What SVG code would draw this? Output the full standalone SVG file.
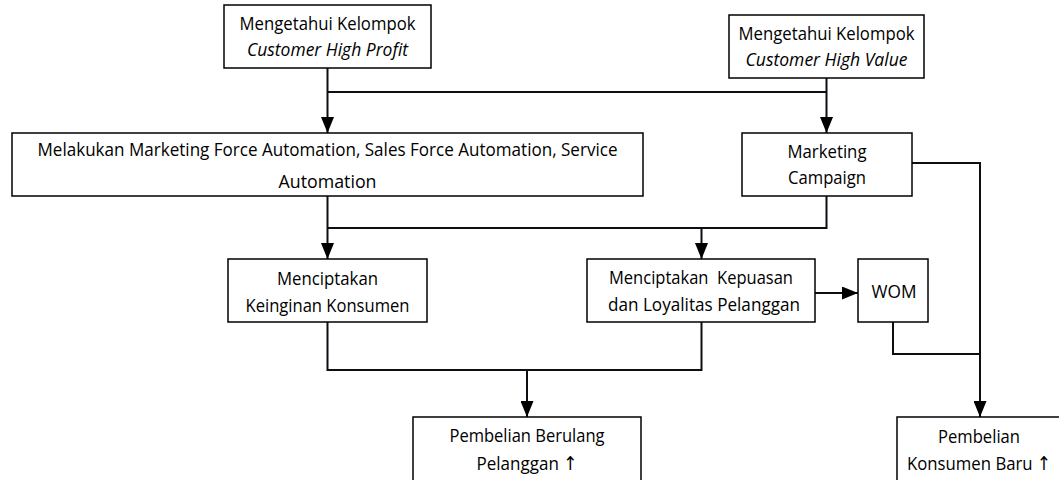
<svg xmlns="http://www.w3.org/2000/svg" width="1059" height="480" viewBox="0 0 1059 480">
  <style>
    .box { fill: #ffffff; stroke: #000000; stroke-width: 1.5; }
    .lbl { font-family: "Open Sans", "Noto Sans", "DejaVu Sans", sans-serif; font-size: 19px; fill: #000000; text-anchor: middle; }
    .it { font-style: italic; }
    .wire { fill: none; stroke: #0d0d14; stroke-width: 2; }
    .arrow { marker-end: url(#head); }
  </style>
  <defs>
    <marker id="head" viewBox="0 0 16 13" refX="16" refY="6.5" markerWidth="16" markerHeight="13" markerUnits="userSpaceOnUse" orient="auto">
      <path d="M0,0 L16,6.5 L0,13 Z" fill="#000000"/>
    </marker>
  </defs>
  <rect width="1059" height="480" fill="#ffffff"/>

  <!-- connectors -->
  <g id="connectors">
    <path class="wire arrow" d="M327.5,68 V133"/>
    <path class="wire" d="M327.5,92 H826.5"/>
    <path class="wire arrow" d="M826.5,78 V133"/>
    <path class="wire arrow" d="M327.5,196 V259"/>
    <path class="wire" d="M826.5,196 V228 H327.5"/>
    <path class="wire arrow" d="M701.5,228 V259"/>
    <path class="wire arrow" d="M912,163 H980 V417"/>
    <path class="wire" d="M893,322 V354 H980"/>
    <path class="wire arrow" d="M815,293 H858"/>
    <path class="wire" d="M327.5,322 V370 H701.5 V322"/>
    <path class="wire arrow" d="M527,370 V417"/>
  </g>

  <!-- nodes -->
  <g id="high-profit">
    <rect class="box" x="224" y="5" width="207" height="63"/>
    <text class="lbl" x="327.5" y="30" textLength="176" lengthAdjust="spacingAndGlyphs">Mengetahui Kelompok</text>
    <text class="lbl it" x="327.5" y="56" textLength="161" lengthAdjust="spacingAndGlyphs">Customer High Profit</text>
  </g>
  <g id="high-value">
    <rect class="box" x="729" y="15" width="195" height="63"/>
    <text class="lbl" x="826.5" y="40" textLength="176" lengthAdjust="spacingAndGlyphs">Mengetahui Kelompok</text>
    <text class="lbl it" x="826.5" y="66" textLength="162" lengthAdjust="spacingAndGlyphs">Customer High Value</text>
  </g>
  <g id="automation">
    <rect class="box" x="12" y="133" width="631" height="63"/>
    <text class="lbl" x="327.5" y="156" textLength="580" lengthAdjust="spacingAndGlyphs">Melakukan Marketing Force Automation, Sales Force Automation, Service</text>
    <text class="lbl" x="327.5" y="188" textLength="98" lengthAdjust="spacingAndGlyphs">Automation</text>
  </g>
  <g id="campaign">
    <rect class="box" x="742" y="133" width="170" height="63"/>
    <text class="lbl" x="827" y="158" textLength="79" lengthAdjust="spacingAndGlyphs">Marketing</text>
    <text class="lbl" x="827" y="184" textLength="78" lengthAdjust="spacingAndGlyphs">Campaign</text>
  </g>
  <g id="keinginan">
    <rect class="box" x="228" y="259" width="199" height="63"/>
    <text class="lbl" x="327.5" y="285" textLength="101" lengthAdjust="spacingAndGlyphs">Menciptakan</text>
    <text class="lbl" x="327.5" y="312" textLength="164" lengthAdjust="spacingAndGlyphs">Keinginan Konsumen</text>
  </g>
  <g id="kepuasan">
    <rect class="box" x="587" y="259" width="228" height="63"/>
    <text class="lbl" x="701" y="284" textLength="184" lengthAdjust="spacingAndGlyphs" xml:space="preserve">Menciptakan  Kepuasan</text>
    <text class="lbl" x="704" y="311" textLength="192" lengthAdjust="spacingAndGlyphs">dan Loyalitas Pelanggan</text>
  </g>
  <g id="wom">
    <rect class="box" x="858" y="259" width="70" height="63"/>
    <text class="lbl" x="894" y="298" textLength="45" lengthAdjust="spacingAndGlyphs">WOM</text>
  </g>
  <g id="berulang">
    <rect class="box" x="413" y="417" width="228" height="66"/>
    <text class="lbl" x="527" y="442" textLength="155" lengthAdjust="spacingAndGlyphs">Pembelian Berulang</text>
    <text class="lbl" x="527" y="470" textLength="101" lengthAdjust="spacingAndGlyphs">Pelanggan ↑</text>
  </g>
  <g id="baru">
    <rect class="box" x="897" y="417" width="170" height="66"/>
    <text class="lbl" x="979" y="443" textLength="82" lengthAdjust="spacingAndGlyphs">Pembelian</text>
    <text class="lbl" x="979" y="470" textLength="144" lengthAdjust="spacingAndGlyphs">Konsumen Baru ↑</text>
  </g>
</svg>
